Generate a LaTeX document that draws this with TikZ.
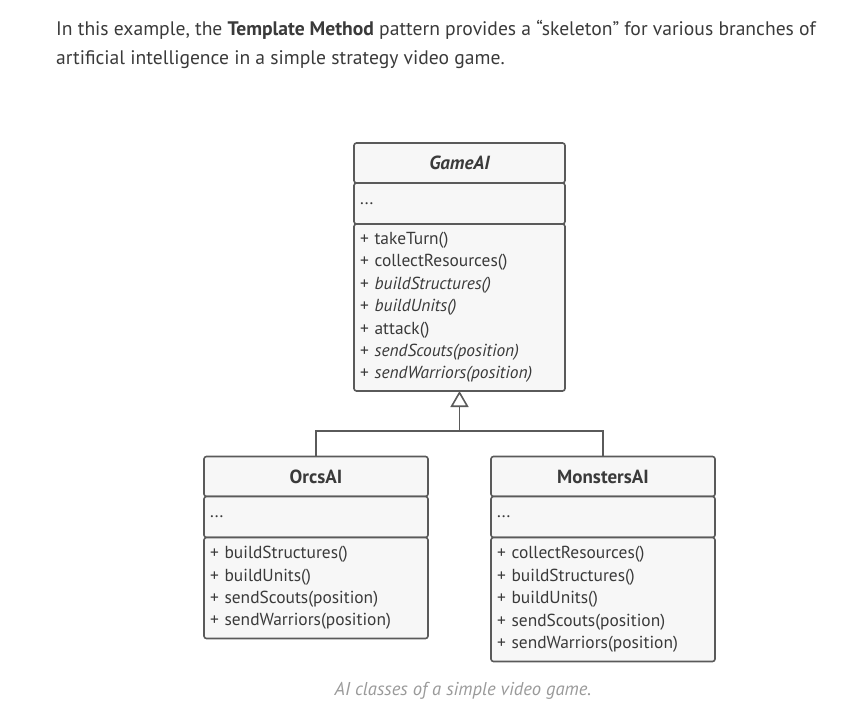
\documentclass[tikz,border=0pt]{standalone}
\usepackage{fontspec}
\setmainfont{PT Sans}
\usetikzlibrary{positioning,arrows.meta}
\definecolor{umlline}{HTML}{5A5A5A}
\definecolor{umlfill}{HTML}{F7F7F7}
\definecolor{umltext}{HTML}{3A3A3A}
\definecolor{captext}{HTML}{9A9A9A}
\tikzset{
    part/.style = {draw=umlline, fill=umlfill, line width=1.6pt, rounded corners=2.5pt,
        outer sep=0pt, inner xsep=6pt, text=umltext, font=\fontsize{17.4}{22.4}\selectfont},
    head/.style = {part, minimum height=40pt, font=\fontsize{19}{22}\selectfont\bfseries},
    fields/.style = {part, minimum height=41pt, align=left},
    ops/.style = {part, align=left, inner ysep=0pt},
    inherit/.style = {draw=umlline, line width=1.6pt, -{Triangle[open, width=18pt, length=16pt, line width=1.6pt]}},
    link/.style = {draw=umlline, line width=1.6pt}
}
\begin{document}
\begin{tikzpicture}[x=1pt, y=-1pt]
    \useasboundingbox (0, 0) rectangle (857, 712);
    % intro text
    \node [anchor=north west, align=left, inner sep=0pt, text=umltext,
        font=\fontsize{19.6}{29}\selectfont] (intro) at (56, 20)
        {In this example, the \textbf{Template Method} pattern provides a “skeleton” for various branches of\\
         artificial intelligence in a simple strategy video game.};
    % base class
    \node [head, minimum width=211pt] (gamehead) at (459.5, 163) {\itshape GameAI};
    \node [fields, minimum width=211pt, text width=199pt, below=0pt of gamehead] (gamefields) {...};
    \node [ops, minimum width=211pt, text width=199pt, minimum height=167pt, below=0pt of gamefields] (gameops)
        {+ takeTurn()\\
         + collectResources()\\
         + \textit{buildStructures()}\\
         + \textit{buildUnits()}\\
         + attack()\\
         + \textit{sendScouts(position)}\\
         + \textit{sendWarriors(position)}};
    % subclasses
    \node [head, minimum width=224pt] (orcshead) at (316, 476.5) {OrcsAI};
    \node [fields, minimum width=224pt, text width=212pt, below=0pt of orcshead] (orcsfields) {...};
    \node [ops, minimum width=224pt, text width=212pt, minimum height=101pt, below=0pt of orcsfields] (orcsops)
        {+ buildStructures()\\
         + buildUnits()\\
         + sendScouts(position)\\
         + sendWarriors(position)};
    \node [head, minimum width=224pt] (monstershead) at (603, 476.5) {MonstersAI};
    \node [fields, minimum width=224pt, text width=212pt, below=0pt of monstershead] (monstersfields) {...};
    \node [ops, minimum width=224pt, text width=212pt, minimum height=124pt, below=0pt of monstersfields] (monstersops)
        {+ collectResources()\\
         + buildStructures()\\
         + buildUnits()\\
         + sendScouts(position)\\
         + sendWarriors(position)};
    % inheritance
    \coordinate (joint) at (459.5, 431);
    \draw [link] (orcshead.north) |- (joint) -| (monstershead.north);
    \draw [inherit] (joint) -- (gameops.south);
    % caption
    \node [text=captext, font=\fontsize{18.6}{22}\selectfont\itshape] (caption) at (463, 691)
        {AI classes of a simple video game.};
\end{tikzpicture}
\end{document}
